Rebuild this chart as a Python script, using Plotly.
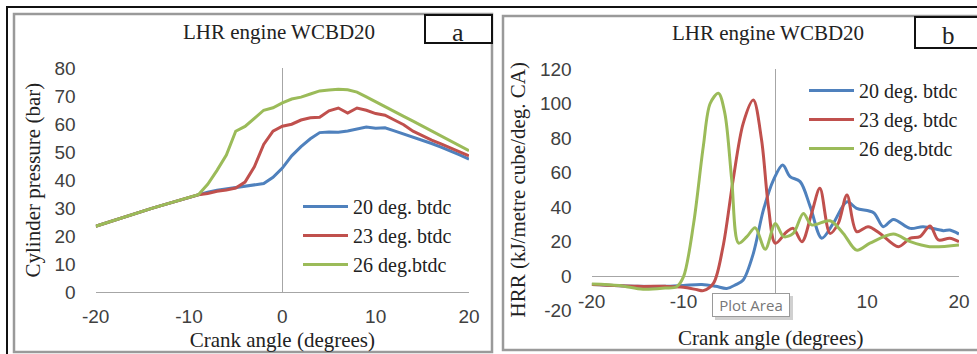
import plotly.graph_objects as go

W, H = 977, 354

# ---------------- data ----------------
series_names = ["20 deg. btdc", "23 deg. btdc", "26 deg.btdc"]

# Panel a : cylinder pressure (bar) vs crank angle (degrees)
crank_angle = list(range(-20, 21))
common_p = [23.5, 24.6, 25.6, 26.7, 27.8, 28.8, 29.9, 30.9, 31.9, 32.9, 33.8, 34.8]
pressure_20 = common_p + [35.7, 36.4, 36.9, 37.4, 37.9, 38.4, 38.8, 41.0, 44.3, 48.7, 52.0, 54.8,
                          57.0, 57.2, 57.1, 57.6, 58.2, 59.0, 58.6, 58.7, 57.6, 56.5, 55.5,
                          54.4, 53.1, 51.8, 50.5, 49.0, 47.5]
pressure_23 = common_p + [35.2, 36.0, 36.5, 37.2, 39.3, 44.8, 52.8, 57.5, 59.3, 60.0, 61.5, 62.3,
                          62.5, 64.8, 65.8, 64.0, 65.8, 65.0, 63.8, 63.2, 61.5, 59.8, 57.5,
                          55.8, 54.3, 53.0, 51.5, 50.1, 48.7]
pressure_26 = common_p + [38.5, 43.5, 49.0, 57.5, 59.2, 62.0, 65.0, 65.9, 67.6, 69.0, 69.7, 70.8,
                          71.9, 72.2, 72.5, 72.3, 71.5, 69.8, 68.0, 66.3, 64.6, 62.8, 61.1,
                          59.3, 57.6, 55.8, 54.0, 52.3, 50.5]

# Panel b : heat release rate (kJ/m3/deg CA) vs crank angle
hrr_angle_20 = [-20, -15, -12, -10, -8, -6.5, -5.3, -4.3, -3.5, -2.4, -1.3, -0.2, 0.8, 1.6, 2.7,
                3.8, 5.05, 6.3, 7.8, 8.85, 10.7, 11.75, 12.85, 14.7, 16.1, 18.3, 19.0, 20.0]
hrr_20 = [-5, -6, -6, -5.5, -5, -6, -7.2, -5, -2.3, 13, 38.3, 55.7, 64.3, 57.6, 54.7,
          40.2, 21.9, 30.5, 43, 39.2, 36.7, 28.6, 32.8, 27.6, 28.6, 26.3, 26.7, 24.3]

hrr_angle_23 = [-20, -15, -12, -10, -8.5, -7.85, -6.75, -5.7, -4.6, -3.5, -2.4, -1.5, -0.75, 0.0,
                1.25, 1.95, 2.9, 3.95, 4.85, 5.95, 6.85, 7.8, 8.85, 10.1, 11.4, 13.4, 14.7, 15.75,
                16.85, 17.75, 19.0, 20.0]
hrr_23 = [-5, -6, -6, -6.5, -8, -8.5, -4.3, 17, 55.7, 88.5, 102, 78.8, 40, 19,
          25.7, 27.6, 19.9, 36.3, 50.8, 24.7, 30.5, 47, 25.7, 28.6, 24.7, 17, 21.9, 22.8,
          29, 20.9, 21.9, 19.9]

hrr_angle_26 = [-20, -17, -14.4, -12, -10.75, -10.0, -8.9, -7.85, -7.1, -6.2, -5.5, -4.75, -4.0,
                -3.1, -2.2, -1.1, 0.0, 0.9, 1.95, 3.05, 3.95, 5.95, 7.4, 8.85, 10.3, 12.85, 14.7,
                16.8, 20.0]
hrr_26 = [-4.6, -5.5, -7.7, -7, -6.2, -0.4, 30.5, 75, 100, 106, 94.3, 55.7, 19,
          22.8, 28, 15.5, 30.5, 22.8, 24.7, 36.3, 29.6, 32, 24.7, 15, 19, 24.3, 19.9,
          17, 18]

x_ticks = [-20, -10, 0, 10, 20]
x_tick_text = ["-20", "-10", "0", "10", "20"]
# in panel b the "0" label is hidden under the "Plot Area" tooltip
xb_ticks = [-20, -10, 10, 20]
xb_tick_text = ["-20", "-10", "10", "20"]
p_ticks = [0, 10, 20, 30, 40, 50, 60, 70, 80]
hrr_ticks = [-20, 0, 20, 40, 60, 80, 100, 120]
hrr_tick_text = ["-20", "0", "20", "40", "60", "80", "100", "120"]

# ---------------- style ----------------
colors = ["#4F81BD", "#C0504D", "#9BBB59"]
SERIF = "Liberation Serif"
SANS = "Liberation Sans"
TXT = "#222222"
TICKC = "#404040"
AXC = "#A6A6A6"


def px(x):
    return x / W


def py(y):
    return 1 - y / H


xa_dom = [px(95.7), px(469)]
ya_dom = [py(292), py(68.3)]
xb_dom = [px(591.7), px(959)]
yb_dom = [py(310.5), py(69)]
hrr_range = [-20, 120]
xb_pos = yb_dom[0] + (0 - hrr_range[0]) / (hrr_range[1] - hrr_range[0]) * (yb_dom[1] - yb_dom[0])

fig = go.Figure()

for name, ys, c in zip(series_names, [pressure_20, pressure_23, pressure_26], colors):
    fig.add_trace(go.Scatter(x=crank_angle, y=ys, name=name, mode="lines",
                             line=dict(color=c, width=3), xaxis="x", yaxis="y",
                             legend="legend", hoverinfo="skip"))

for name, xs, ys, c in zip(series_names, [hrr_angle_20, hrr_angle_23, hrr_angle_26],
                           [hrr_20, hrr_23, hrr_26], colors):
    fig.add_trace(go.Scatter(x=xs, y=ys, name=name, mode="lines",
                             line=dict(color=c, width=3, shape="spline", smoothing=0.9),
                             xaxis="x2", yaxis="y2", legend="legend2", hoverinfo="skip"))

tickfont = dict(family=SANS, size=19, color=TICKC)
titlefont = dict(family=SERIF, size=21, color=TXT)

fig.update_layout(
    width=W, height=H,
    margin=dict(l=0, r=0, t=0, b=0),
    paper_bgcolor="white", plot_bgcolor="rgba(0,0,0,0)",
    xaxis=dict(domain=xa_dom, anchor="y", range=[-20, 20], tickvals=x_ticks, ticktext=x_tick_text,
               showgrid=False, showline=False, zeroline=True, zerolinecolor=AXC,
               zerolinewidth=1, ticks="", tickfont=tickfont, ticklabelstandoff=11,
               automargin=False,
               title=dict(text="Crank angle (degrees)", font=titlefont, standoff=6)),
    yaxis=dict(domain=ya_dom, anchor="x", range=[0, 80], tickvals=p_ticks,
               showgrid=False, showline=False, zeroline=True, zerolinecolor=AXC,
               zerolinewidth=1, ticks="", tickfont=tickfont, ticklabelstandoff=19,
               automargin=False,
               title=dict(text="Cylinder pressure (bar)", font=titlefont, standoff=8)),
    xaxis2=dict(domain=xb_dom, anchor="free", position=xb_pos, range=[-20, 20],
                tickvals=xb_ticks, ticktext=xb_tick_text, showgrid=False, showline=False,
                zeroline=True, zerolinecolor=AXC, zerolinewidth=1, ticks="", tickfont=tickfont,
                ticklabelstandoff=12, automargin=False),
    yaxis2=dict(domain=yb_dom, anchor="x2", range=hrr_range, tickvals=hrr_ticks,
                ticktext=hrr_tick_text,
                showgrid=False, showline=False, zeroline=True, zerolinecolor=AXC,
                zerolinewidth=1, ticks="", tickfont=tickfont, ticklabelstandoff=19,
                automargin=False,
                title=dict(text="HRR (kJ/metre cube/deg. CA)", font=titlefont, standoff=8)),
    legend=dict(x=px(298), y=py(187), xanchor="left", yanchor="top",
                font=dict(family=SERIF, size=20, color=TXT), bgcolor="rgba(0,0,0,0)",
                tracegroupgap=0, itemwidth=45),
    legend2=dict(x=px(804), y=py(71), xanchor="left", yanchor="top",
                 font=dict(family=SERIF, size=20, color=TXT), bgcolor="rgba(0,0,0,0)",
                 tracegroupgap=0, itemwidth=45),
    showlegend=True,
)

shapes = []
# outer black edges
shapes.append(dict(type="line", xref="paper", yref="paper", x0=px(6), x1=px(977), y0=py(7), y1=py(7),
                   line=dict(color="#111111", width=2)))
shapes.append(dict(type="line", xref="paper", yref="paper", x0=px(7), x1=px(7), y0=py(6), y1=py(354),
                   line=dict(color="#111111", width=2)))
# chart area frames
shapes.append(dict(type="rect", xref="paper", yref="paper", x0=px(14), x1=px(492), y0=py(14), y1=py(352),
                   line=dict(color="#9a9a9a", width=2.5)))
shapes.append(dict(type="rect", xref="paper", yref="paper", x0=px(503), x1=px(985), y0=py(16), y1=py(350),
                   line=dict(color="#9a9a9a", width=2.5)))
# label boxes
shapes.append(dict(type="rect", xref="paper", yref="paper", x0=px(425), x1=px(492), y0=py(15), y1=py(43),
                   line=dict(color="#111111", width=2), fillcolor="white"))
shapes.append(dict(type="rect", xref="paper", yref="paper", x0=px(915), x1=px(985), y0=py(17), y1=py(48),
                   line=dict(color="#111111", width=2), fillcolor="white"))
# tooltip shadow
shapes.append(dict(type="rect", xref="paper", yref="paper", x0=px(715), x1=px(793), y0=py(296), y1=py(320),
                   line=dict(width=0), fillcolor="#d0d0d0", layer="above"))
fig.update_layout(shapes=shapes)

ann = [
    dict(text="LHR engine WCBD20", x=px(279), y=py(32), font=dict(family=SERIF, size=21, color=TXT)),
    dict(text="LHR engine WCBD20", x=px(768), y=py(33), font=dict(family=SERIF, size=21, color=TXT)),
    dict(text="a", x=px(458), y=py(33), font=dict(family=SERIF, size=26, color=TXT)),
    dict(text="b", x=px(948), y=py(36), font=dict(family=SERIF, size=25, color=TXT)),
    dict(text="Crank angle (degrees)", x=px(770), y=py(338), font=dict(family=SERIF, size=21, color=TXT)),
    dict(text="Plot Area", x=px(751), y=py(305), width=74, height=20,
         font=dict(family="Open Sans", size=15, color="#777777"),
         bgcolor="white", bordercolor="#9a9a9a", borderwidth=1, borderpad=1),
]
for a in ann:
    a.update(xref="paper", yref="paper", showarrow=False, xanchor="center", yanchor="middle")
fig.update_layout(annotations=ann)

fig.write_html("out.html", config={"displayModeBar": False},
               post_script="document.body.style.margin='0';")
